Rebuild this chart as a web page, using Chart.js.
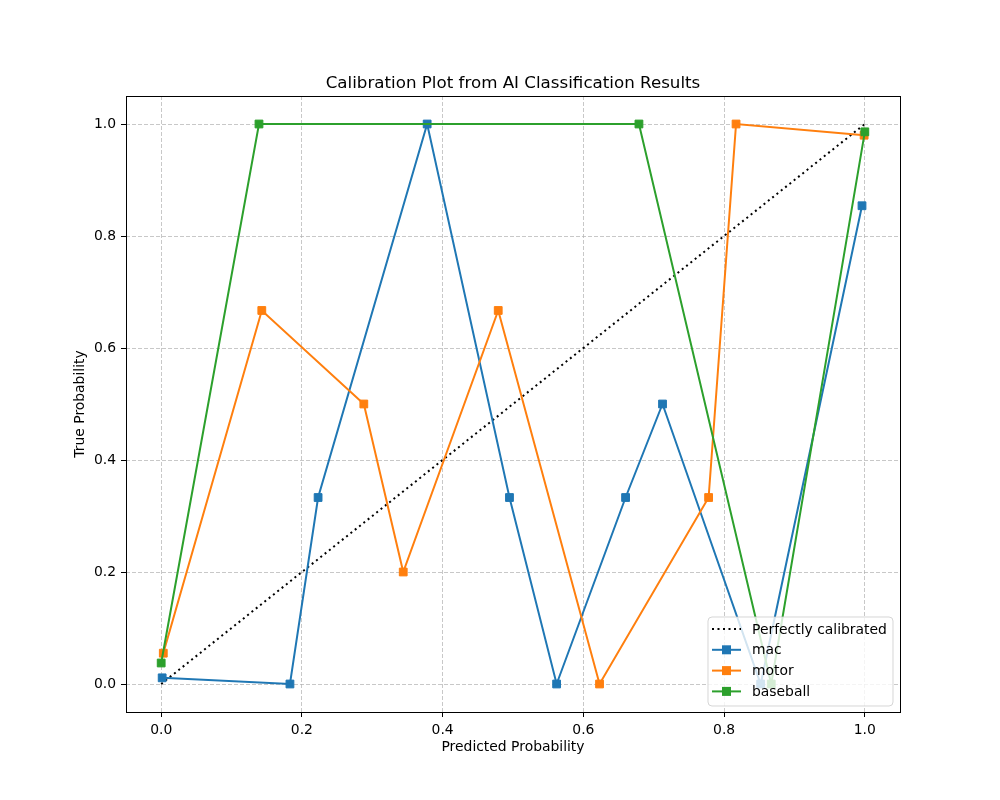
<!DOCTYPE html>
<html>
<head>
<meta charset="utf-8">
<title>Calibration Plot</title>
<script src="https://cdn.jsdelivr.net/npm/chart.js@4.4.1/dist/chart.umd.min.js"></script>
<style>
  html, body { margin: 0; padding: 0; background: #fff; }
  canvas { display: block; }
</style>
</head>
<body>
<canvas id="myChart" width="1000" height="800"></canvas>
<script>
// values
var seriesNames = ['mac', 'motor', 'baseball'];
var seriesColors = ['#1f77b4', '#ff7f0e', '#2ca02c'];

var macX = [0.0014, 0.183, 0.223, 0.378, 0.495, 0.562, 0.660, 0.7125, 0.852, 0.996];
var macY = [0.011, 0.0, 0.333, 1.0, 0.333, 0.0, 0.333, 0.5, 0.0, 0.854];

var motorX = [0.003, 0.143, 0.288, 0.344, 0.479, 0.623, 0.778, 0.817, 0.999];
var motorY = [0.055, 0.667, 0.5, 0.2, 0.667, 0.0, 0.333, 1.0, 0.98];

var baseballX = [0.0, 0.139, 0.679, 0.867, 1.0];
var baseballY = [0.0375, 1.0, 1.0, 0.0, 0.986];

var diagX = [0, 1];
var diagY = [0, 1];

var tickValues = [0.0, 0.2, 0.4, 0.6, 0.8, 1.0];

function toPoints(xs, ys) {
    return xs.map(function (x, i) { return { x: x, y: ys[i] }; });
}

var FONT = 'DejaVu Sans';
var gridColor = 'rgba(176,176,176,0.7)';

function lineSet(label, xs, ys, color, order) {
    return {
        label: label,
        data: toPoints(xs, ys),
        borderColor: color,
        backgroundColor: color,
        borderWidth: 2,
        pointStyle: 'rect',
        pointRadius: 5.5,
        pointBorderWidth: 1,
        pointBorderColor: color,
        pointBackgroundColor: color,
        order: order
    };
}

// title, frame and the in-axes legend drawn like matplotlib does them
var frameAndLegend = {
    id: 'frameAndLegend',
    afterDraw: function (chart) {
        var c = chart.ctx;
        var a = chart.chartArea;
        c.save();
        // axes box
        c.strokeStyle = '#000';
        c.lineWidth = 1;
        c.strokeRect(Math.round(a.left) + 0.5, Math.round(a.top) + 0.5,
                     Math.round(a.right - a.left), Math.round(a.bottom - a.top));
        // title
        c.fillStyle = '#000';
        c.font = '16.7px "' + FONT + '"';
        c.textAlign = 'center';
        c.textBaseline = 'alphabetic';
        c.fillText('Calibration Plot from AI Classification Results', (a.left + a.right) / 2, a.top - 8);

        // legend
        var bx = a.right - 192, by = a.bottom - 95, bw = 185, bh = 89, r = 4;
        c.beginPath();
        c.moveTo(bx + r, by);
        c.arcTo(bx + bw, by, bx + bw, by + bh, r);
        c.arcTo(bx + bw, by + bh, bx, by + bh, r);
        c.arcTo(bx, by + bh, bx, by, r);
        c.arcTo(bx, by, bx + bw, by, r);
        c.closePath();
        c.fillStyle = 'rgba(255,255,255,0.8)';
        c.fill();
        c.strokeStyle = 'rgba(204,204,204,0.8)';
        c.lineWidth = 1;
        c.stroke();

        var labels = ['Perfectly calibrated'].concat(seriesNames);
        var colors = ['#000'].concat(seriesColors);
        c.font = '13.9px "' + FONT + '"';
        c.textAlign = 'left';
        c.textBaseline = 'middle';
        for (var i = 0; i < labels.length; i++) {
            var yy = by + 12 + i * 20.8;
            var x0 = bx + 4, x1 = bx + 33;
            c.strokeStyle = colors[i];
            c.lineWidth = 2;
            c.setLineDash(i === 0 ? [2, 3.5] : []);
            c.beginPath();
            c.moveTo(x0, yy);
            c.lineTo(x1, yy);
            c.stroke();
            c.setLineDash([]);
            if (i > 0) {
                c.fillStyle = colors[i];
                c.fillRect((x0 + x1) / 2 - 4.5, yy - 4.5, 9, 9);
            }
            c.fillStyle = '#000';
            c.fillText(labels[i], bx + 44, yy + 1);
        }
        c.restore();
    }
};

var ctx = document.getElementById('myChart').getContext('2d');
var myChart = new Chart(ctx, {
    type: 'line',
    data: {
        datasets: [
            {
                label: 'Perfectly calibrated',
                data: toPoints(diagX, diagY),
                borderColor: '#000',
                borderWidth: 2,
                borderDash: [2, 3.5],
                pointRadius: 0,
                order: 4
            },
            lineSet(seriesNames[0], macX, macY, seriesColors[0], 3),
            lineSet(seriesNames[1], motorX, motorY, seriesColors[1], 2),
            lineSet(seriesNames[2], baseballX, baseballY, seriesColors[2], 1)
        ]
    },
    options: {
        responsive: false,
        animation: false,
        devicePixelRatio: 1,
        layout: {
            padding: { top: 96, right: 100, left: 0, bottom: 0 }
        },
        plugins: {
            legend: { display: false },
            title: { display: false },
            tooltip: { enabled: false }
        },
        scales: {
            x: {
                type: 'linear',
                min: -0.05,
                max: 1.05,
                afterBuildTicks: function (scale) {
                    scale.ticks = tickValues.map(function (v) { return { value: v }; });
                },
                afterFit: function (scale) { scale.height = 88; },
                ticks: {
                    color: '#000',
                    padding: 5,
                    maxRotation: 0,
                    font: { family: FONT, size: 13.9 },
                    callback: function (v) { return Number(v).toFixed(1); }
                },
                grid: {
                    color: gridColor,
                    tickColor: '#000',
                    tickLength: 5,
                    tickBorderDash: [],
                    lineWidth: 1
                },
                border: { display: false, dash: [4, 2] },
                title: {
                    display: true,
                    text: 'Predicted Probability',
                    color: '#000',
                    font: { family: FONT, size: 13.9 },
                    padding: { top: 0, bottom: 44 }
                }
            },
            y: {
                type: 'linear',
                min: -0.05,
                max: 1.05,
                afterBuildTicks: function (scale) {
                    scale.ticks = tickValues.map(function (v) { return { value: v }; });
                },
                afterFit: function (scale) { scale.width = 126; },
                ticks: {
                    color: '#000',
                    padding: 5,
                    font: { family: FONT, size: 13.9 },
                    callback: function (v) { return Number(v).toFixed(1); }
                },
                grid: {
                    color: gridColor,
                    tickColor: '#000',
                    tickLength: 5,
                    tickBorderDash: [],
                    lineWidth: 1
                },
                border: { display: false, dash: [4, 2] },
                title: {
                    display: true,
                    text: 'True Probability',
                    color: '#000',
                    font: { family: FONT, size: 13.9 },
                    padding: { top: 72, bottom: 0 }
                }
            }
        }
    },
    plugins: [frameAndLegend]
});
</script>
</body>
</html>
